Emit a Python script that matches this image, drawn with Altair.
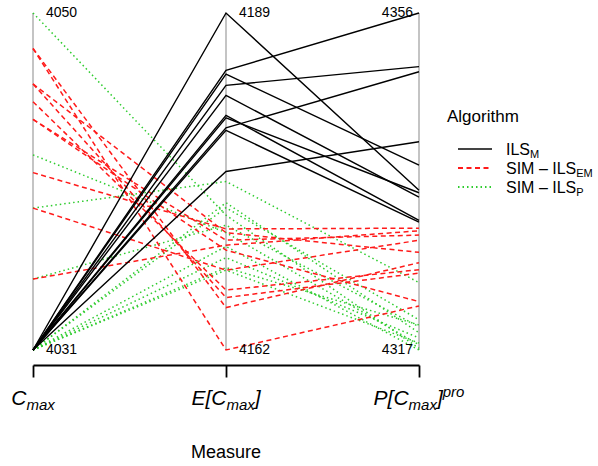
import altair as alt
import pandas as pd

# ---- data -----------------------------------------------------------------
measures = ["C_max", "E[C_max]", "P[C_max]^pro"]
algorithms = ["ILS_M", "SIM-ILS_EM", "SIM-ILS_P"]

ils_cmax = [4031, 4031, 4031, 4031, 4031, 4031, 4031, 4031, 4031, 4031]
ils_ecmax = [4189.0, 4184.4, 4184.1, 4183.2, 4182.4, 4180.8, 4180.6, 4179.8, 4179.6, 4176.3]
ils_pcmax = [4335.5, 4356.0, 4338.4, 4349.8, 4334.7, 4332.0, 4335.2, 4349.2, 4331.8, 4341.1]

em_cmax = [4048, 4048, 4046, 4046, 4045, 4044, 4044, 4041, 4039, 4035]
em_ecmax = [4162.0, 4165.4, 4166.2, 4171.4, 4166.8, 4170.8, 4170.0, 4171.7, 4168.4, 4170.4]
em_pcmax = [4322.1, 4327.1, 4325.9, 4328.3, 4326.3, 4330.3, 4322.6, 4331.1, 4329.7, 4330.8]

p_cmax = [4050, 4042, 4039, 4035, 4031, 4031, 4031, 4031, 4031, 4031]
p_ecmax = [4172.8, 4171.4, 4175.5, 4172.0, 4173.8, 4173.4, 4170.3, 4169.4, 4168.6, 4168.4]
p_pcmax = [4317.2, 4317.6, 4324.8, 4319.7, 4319.0, 4320.5, 4317.0, 4318.4, 4319.9, 4317.8]

# axis captions (pieces: main text, subscript, superscript)
axis_label_parts = [
    [("C", "main"), ("max", "sub")],
    [("E[C", "main"), ("max", "sub"), ("]", "main")],
    [("P[C", "main"), ("max", "sub"), ("]", "main"), ("pro", "sup")],
]
legend_parts = [
    [("ILS", "main"), ("M", "sub")],
    [("SIM \u2013 ILS", "main"), ("EM", "sub")],
    [("SIM \u2013 ILS", "main"), ("P", "sub")],
]
legend_title = "Algorithm"
x_title = "Measure"

# ---- long table with per-measure min-max scaling ---------------------------
series = {
    "ILS_M": [ils_cmax, ils_ecmax, ils_pcmax],
    "SIM-ILS_EM": [em_cmax, em_ecmax, em_pcmax],
    "SIM-ILS_P": [p_cmax, p_ecmax, p_pcmax],
}
rows = []
for alg in algorithms:
    cols = series[alg]
    for run in range(len(cols[0])):
        for m, col in enumerate(cols):
            rows.append({"alg": alg, "run": f"{alg}-{run}", "m": m,
                         "measure": measures[m], "value": col[run]})
df = pd.DataFrame(rows)
grp = df.groupby("m")["value"]
df["norm"] = (df["value"] - grp.transform("min")) / (grp.transform("max") - grp.transform("min"))

ext = df.groupby("m")["value"].agg(["min", "max"]).reset_index()
ext_long = pd.concat([
    pd.DataFrame({"m": ext["m"], "pos": 0.0, "label": ext["min"].round().astype(int).astype(str)}),
    pd.DataFrame({"m": ext["m"], "pos": 1.0, "label": ext["max"].round().astype(int).astype(str)}),
])
axes_df = pd.DataFrame({"m": list(range(len(measures)))})
one = pd.DataFrame({"k": [0]})

# ---- layout ---------------------------------------------------------------
W, H = 386, 337
PAD = {"left": 33, "top": 13, "right": 598 - 33 - W, "bottom": 466 - 13 - H}
FONT = "Liberation Sans"

# Arial / Liberation Sans advance widths (1/1000 em)
ADV = {"C": 722, "E": 667, "P": 667, "[": 278, "]": 278, "m": 833, "a": 556,
       "x": 500, "p": 556, "r": 333, "o": 556, "I": 278, "L": 556, "S": 667,
       "M": 833, " ": 278, "\u2013": 556}


def text_w(s, size):
    return sum(ADV.get(c, 556) for c in s) * size / 1000.0


xscale = alt.Scale(domain=[0, len(measures) - 1])
yscale = alt.Scale(domain=[0, 1])
xaxis = alt.Axis(values=[0, 1, 2], labels=False, title=None, grid=False,
                 domain=True, domainColor="black", domainWidth=1.8,
                 ticks=True, tickColor="black", tickWidth=1.8, tickSize=12,
                 offset=15)

layers = []

# vertical gray axes
layers.append(
    alt.Chart(axes_df).mark_rule(color="#c4c4c4", strokeWidth=2).encode(
        x=alt.X("m:Q", scale=xscale, axis=xaxis),
        y=alt.Y(datum=0, scale=yscale, axis=None),
        y2=alt.Y2(datum=1),
    )
)

styles = {
    "SIM-ILS_P": dict(color="#2ecc2e", strokeWidth=1.5, strokeDash=[1.5, 3]),
    "SIM-ILS_EM": dict(color="#ff1a1a", strokeWidth=1.5, strokeDash=[5, 3.5]),
    "ILS_M": dict(color="black", strokeWidth=1.4),
}
for alg in ["SIM-ILS_P", "SIM-ILS_EM", "ILS_M"]:
    layers.append(
        alt.Chart(df[df["alg"] == alg]).mark_line(**styles[alg]).encode(
            x=alt.X("m:Q", scale=xscale, axis=xaxis),
            y=alt.Y("norm:Q", scale=yscale, axis=None),
            detail="run:N",
            order="m:Q",
        )
    )

# min / max values at the ends of each axis
layers.append(
    alt.Chart(ext_long[ext_long["m"] < 2]).mark_text(
        align="left", baseline="middle", dx=13, fontSize=14, font=FONT, color="black"
    ).encode(x=alt.X("m:Q", scale=xscale, axis=xaxis),
             y=alt.Y("pos:Q", scale=yscale, axis=None), text="label:N")
)
layers.append(
    alt.Chart(ext_long[ext_long["m"] == 2]).mark_text(
        align="right", baseline="middle", dx=-6, fontSize=14, font=FONT, color="black"
    ).encode(x=alt.X("m:Q", scale=xscale, axis=xaxis),
             y=alt.Y("pos:Q", scale=yscale, axis=None), text="label:N")
)

# italic axis captions with sub/superscripts
cap_size = {"main": 21, "sub": 15, "sup": 15}
cap_y = {"main": H + 55, "sub": H + 60, "sup": H + 47}
for idx, parts in enumerate(axis_label_parts):
    widths = [text_w(t, cap_size[k]) for t, k in parts]
    cur = -sum(widths) / 2.0
    for (t, k), w in zip(parts, widths):
        layers.append(
            alt.Chart(one).mark_text(
                text=t, align="left", baseline="alphabetic", fontSize=cap_size[k],
                fontStyle="italic", font=FONT, color="black", dx=cur,
            ).encode(x=alt.datum(idx), y=alt.value(cap_y[k]))
        )
        cur += w

# x title
layers.append(
    alt.Chart(one).mark_text(
        text=x_title, align="center", baseline="middle", fontSize=18, font=FONT, color="black"
    ).encode(x=alt.datum(1), y=alt.value(H + 103))
)

# legend
LX = W + 28
layers.append(
    alt.Chart(one).mark_text(
        text=legend_title, align="left", baseline="middle", fontSize=17, font=FONT, color="black"
    ).encode(x=alt.value(LX), y=alt.value(104))
)
leg_style = [styles["ILS_M"], styles["SIM-ILS_EM"], styles["SIM-ILS_P"]]
for i, (parts, st) in enumerate(zip(legend_parts, leg_style)):
    yy = 136 + i * 19
    st = dict(st)
    st["strokeWidth"] = 2 if "strokeDash" not in st else 2
    if st["color"] == "black":
        st["color"] = "#444444"
    layers.append(
        alt.Chart(one).mark_rule(**st).encode(
            x=alt.value(LX + 11), x2=alt.value(LX + 45), y=alt.value(yy)
        )
    )
    cur = LX + 59
    for t, k in parts:
        size = 16 if k == "main" else 11
        layers.append(
            alt.Chart(one).mark_text(
                text=t, align="left", baseline="alphabetic", fontSize=size,
                font=FONT, color="black",
            ).encode(x=alt.value(cur), y=alt.value(yy + (6 if k == "main" else 9)))
        )
        cur += text_w(t, size)

chart = alt.layer(*layers).properties(
    width=W, height=H, padding=PAD, autosize=alt.AutoSizeParams(type="none")
).configure_view(stroke=None)

chart.save("out.html", embed_options={"renderer": "svg", "actions": False})
